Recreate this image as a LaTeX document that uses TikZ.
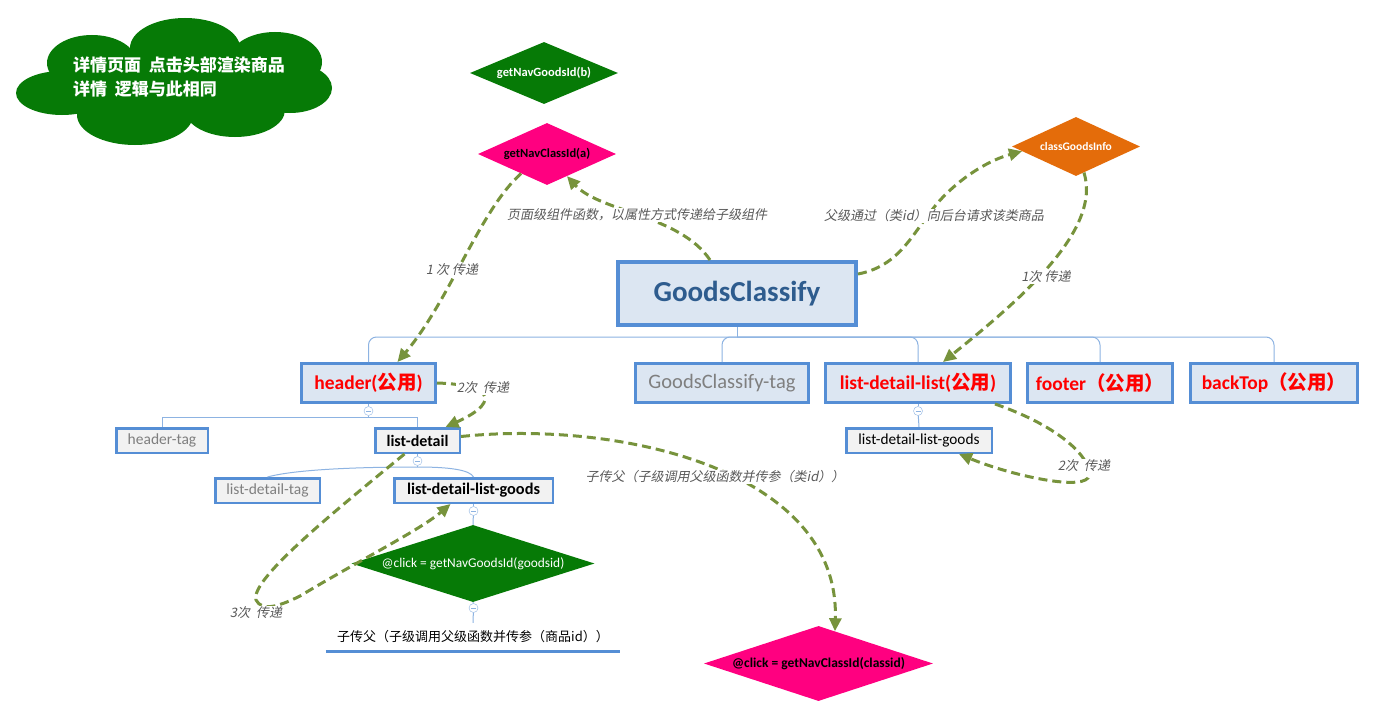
\documentclass[tikz,border=0pt]{standalone}
\usepackage{fontspec}
\setmainfont{Carlito}
\newfontfamily\cjk{Noto Sans CJK SC}
\newfontfamily\cjksl{Noto Sans CJK SC}[FakeSlant=0.2]
\usetikzlibrary{shapes.geometric,arrows.meta}
\definecolor{cgreen}{HTML}{067A06}
\definecolor{cpink}{HTML}{FF0080}
\definecolor{corange}{HTML}{E46C0A}
\definecolor{boxfill}{HTML}{DCE6F2}
\definecolor{boxline}{HTML}{558ED5}
\definecolor{tagfill}{HTML}{F2F2F2}
\definecolor{treeline}{HTML}{8DB3E2}
\definecolor{flowcol}{HTML}{77933C}
\definecolor{notecol}{HTML}{595959}
\definecolor{tagtext}{HTML}{7F7F7F}
\definecolor{titlecol}{HTML}{2E5C8E}
\tikzset{
  compbox/.style={draw=boxline, line width=3pt, fill=boxfill, inner sep=0,
    minimum height=39pt, font=\fontsize{19.5}{22}\selectfont\bfseries, text=red},
  tagbox/.style={draw=boxline, line width=2.5pt, fill=tagfill, inner sep=0,
    minimum height=24.5pt, font=\fontsize{15.5}{18}\selectfont},
  dmd/.style={diamond, inner sep=0},
  dmdtext/.style={font=\fontsize{12.5}{14}\selectfont\bfseries},
  tree/.style={draw=treeline, line width=1pt},
  fold/.style={circle, draw=treeline, fill=white, minimum size=9pt, inner sep=0,
    path picture={\draw[treeline] ([xshift=-2.5pt]path picture bounding box.center)
      -- ([xshift=2.5pt]path picture bounding box.center);}},
  flow/.style={draw=flowcol, line width=3pt, dash pattern=on 9pt off 5pt,
    -{Triangle[length=13pt,width=12pt]}},
  flowlbl/.style={font=\fontsize{13}{15}\selectfont\cjksl, text=notecol,
    fill=white, inner sep=1pt}
}
\begin{document}
\begin{tikzpicture}[x=1pt, y=-1pt]
\useasboundingbox[fill=white] (0,0) rectangle (1376,717);
% note cloud
\foreach \cx/\cy/\rx/\ry in {175/85/120/35, 62/93/46/22, 92/63/45/28, 185/48/55/30,
    275/62/47/30, 290/88/42/25, 235/110/50/27, 135/115/58/30} {
  \fill[cgreen] (\cx,\cy) ellipse [x radius=\rx pt, y radius=\ry pt];
}
\node[font=\fontsize{17}{24}\selectfont\cjk\bfseries, text=white, align=left,
  anchor=west, inner sep=0] (notetext) at (73,77) {详情页面\ \ 点击头部渲染商品\\详情\ \ 逻辑与此相同};
% functions
\node[dmd, fill=cgreen, minimum width=148pt, minimum height=62pt,
  label={[dmdtext, text=white]center:getNavGoodsId(b)}] (gngb) at (544,73) {};
\node[dmd, fill=cpink, minimum width=138pt, minimum height=62pt,
  label={[dmdtext]center:getNavClassId(a)}] (gnca) at (547,154) {};
\node[dmd, fill=corange, minimum width=128pt, minimum height=59pt,
  label={[dmdtext, font=\fontsize{11.5}{13}\selectfont\bfseries, text=white]center:classGoodsInfo}]
  (cgi) at (1076,146.5) {};
% root
\node[draw=boxline, line width=4pt, fill=boxfill, minimum width=238pt,
  minimum height=63pt, font=\fontsize{29}{32}\selectfont\bfseries,
  text=titlecol] (gc) at (737,293.5) {GoodsClassify};
% first level
\node[compbox, minimum width=134pt] (hd) at (368.5,383) {header({\cjk 公用})};
\node[compbox, minimum width=173pt, font=\fontsize{20.5}{22}\selectfont,
  text=tagtext] (gct) at (722,383) {GoodsClassify-tag};
\node[compbox, minimum width=185pt] (ldl) at (918,383) {list-detail-list({\cjk 公用})};
\node[compbox, minimum width=145pt] (ft) at (1100,383) {footer{\cjk （公用）}};
\node[compbox, minimum width=167pt] (bt) at (1274,383) {backTop{\cjk （公用）}};
% second level
\node[tagbox, minimum width=91.5pt, text=tagtext] (htag) at (162,440.5) {header-tag};
\node[tagbox, minimum width=84.5pt, font=\fontsize{16}{18}\selectfont\bfseries]
  (ld) at (417.5,440.5) {list-detail};
\node[tagbox, minimum width=104.5pt, text=tagtext] (ldtag) at (267.5,490.5) {list-detail-tag};
\node[tagbox, minimum width=158.5pt, font=\fontsize{16.3}{18}\selectfont\bfseries]
  (ldlg) at (473.5,490.5) {list-detail-list-goods};
\node[tagbox, minimum width=145.5pt, font=\fontsize{15.3}{18}\selectfont]
  (ldlg2) at (919,440.5) {list-detail-list-goods};
\node[dmd, fill=cgreen, minimum width=243pt, minimum height=77pt,
  label={[font=\fontsize{13.4}{15}\selectfont, text=white]center:@click = getNavGoodsId(goodsid)}]
  (gdia) at (473,563.5) {};
\node[minimum width=294pt, minimum height=28pt, inner sep=0,
  font=\fontsize{13}{15}\selectfont\cjk] (cp) at (473,637) {子传父（子级调用父级函数并传参（商品id））};
\draw[draw=boxline, line width=3pt] (cp.south west) -- (cp.south east);
\node[dmd, fill=cpink, minimum width=229pt, minimum height=75pt,
  label={[font=\fontsize{13.5}{15}\selectfont\bfseries]center:@click = getNavClassId(classid)}]
  (mcl) at (818.5,663.5) {};
% tree lines
\coordinate (gcjoin) at (737,337);
\draw[tree] (gc.south) -- (gcjoin);
\foreach \c in {hd,gct,ldl,ft,bt} {
  \draw[tree, rounded corners=8pt] (gcjoin) -| (\c.north);
}
\node[fold] (hdfold) at (368.5,411) {};
\coordinate (hdjoin) at (368.5,417);
\draw[tree] (hd.south) -- (hdfold);
\draw[tree] (hdfold) -- (hdjoin);
\foreach \c in {htag,ld} {
  \draw[tree] (hdjoin) -| (\c.north);
}
\node[fold] (ldfold) at (417.5,461) {};
\coordinate (ldjoin) at (417.5,467);
\draw[tree] (ld.south) -- (ldfold);
\draw[tree] (ldfold) -- (ldjoin);
\draw[tree] (ldtag.north) .. controls (300,468) and (380,467) .. (ldjoin)
  .. controls (450,467) and (470,470) .. (ldlg.north);
\node[fold] (ldlgfold) at (473.5,511) {};
\draw[tree] (ldlg.south) -- (ldlgfold);
\draw[tree] (ldlgfold) -- (gdia.north);
\node[fold] (gdiafold) at (473.5,608) {};
\draw[tree] (gdia.south) -- (gdiafold);
\draw[tree] (gdiafold) -- (cp.north);
\node[fold] (ldlfold) at (918,411) {};
\draw[tree] (ldl.south) -- (ldlfold);
\draw[tree] (ldlfold) -- (ldlg2.north);
% data flow
\draw[flow] ([xshift=-27pt]gc.north) .. controls (680,215) and (600,212) .. (gnca.-48);
\draw[flow] (gnca.-143) .. controls (480,210) and (450,300) .. ([xshift=29pt]hd.north);
\draw[flow] (hd.east) .. controls (500,385) and (495,405) .. ([xshift=28pt]ld.north);
\draw[flow] ([yshift=19.5pt]gc.east) .. controls (905,265) and (915,225) .. (945,195)
  .. controls (965,175) and (990,160) .. (cgi.-175);
\draw[flow] (cgi.-73) .. controls (1102,230) and (1020,300) .. ([xshift=25pt]ldl.north);
\coordinate (ldlturn) at (1088,478);
\draw[flow] ([xshift=77pt]ldl.south) .. controls (1070,430) and (1095,465) .. (ldlturn)
  .. controls (1078,490) and (1010,475) .. ([xshift=40pt]ldlg2.south);
\draw[flow] ([yshift=4pt]ld.east) .. controls (620,420) and (840,470) .. (mcl.63);
\coordinate (ldturn) at (256,600);
\draw[flow] ([xshift=-13pt]ld.south) .. controls (330,515) and (250,580) .. (ldturn)
  .. controls (262,612) and (280,606) .. (300,596)
  .. controls (360,560) and (420,530) .. ([xshift=-23pt]ldlg.south);
% flow labels
\node[flowlbl] (lblA) at (637,215) {页面级组件函数，以属性方式传递给子级组件};
\node[flowlbl] (lblB) at (452,270) {1 次 传递};
\node[flowlbl] (lblC) at (483,388) {2次\ \ 传递};
\node[flowlbl] (lblD) at (934,216) {父级通过（类id）向后台请求该类商品};
\node[flowlbl] (lblE) at (1046,277) {1次 传递};
\node[flowlbl] (lblF) at (1084,466) {2次\ \ 传递};
\node[flowlbl] (lblG) at (715,477) {子传父（子级调用父级函数并传参（类id））};
\node[flowlbl] (lblH) at (256,613) {3次\ \ 传递};
\end{tikzpicture}
\end{document}
